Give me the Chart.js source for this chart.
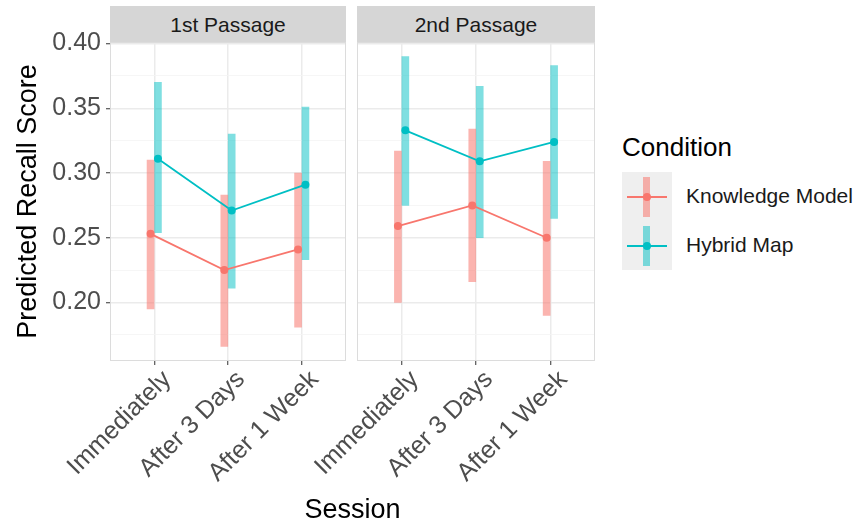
<!DOCTYPE html>
<html>
<head>
<meta charset="utf-8">
<script src="https://cdn.jsdelivr.net/npm/chart.js@4.4.1/dist/chart.umd.min.js"></script>
<style>
  body { margin: 0; width: 864px; height: 524px; background: #fff; position: relative; overflow: hidden;
         font-family: "Liberation Sans", Arial, sans-serif; }
  canvas { position: absolute; }
  .strip { position: absolute; top: 6px; height: 36px; background: #d6d6d6; color: #1a1a1a;
           font-size: 21px; line-height: 37px; text-align: center; z-index: 2; }
  .xtitle { position: absolute; left: 110px; width: 485px; top: 494px; text-align: center; font-size: 27px; color: #000; }
  .legend { position: absolute; left: 622px; top: 132px; }
  .legend .ttl { font-size: 26px; line-height: 30px; color: #000; margin-bottom: 10px; }
  .key { position: relative; width: 50px; height: 49px; background: #efefef; }
  .key .bar { position: absolute; left: 21px; top: 5px; width: 7px; height: 40px; }
  .key .ln { position: absolute; left: 5px; top: 24px; width: 40px; height: 2px; }
  .key .dot { position: absolute; left: 21px; top: 21px; width: 8px; height: 8px; border-radius: 50%; }
  .lab { position: absolute; left: 64px; top: 12px; font-size: 21px; line-height: 24px; color: #1a1a1a; white-space: nowrap; }
</style>
</head>
<body>
<div class="strip" style="left:110px;width:236px">1st Passage</div>
<div class="strip" style="left:357px;width:238px">2nd Passage</div>
<canvas id="c1" width="350" height="496" style="left:0;top:28px"></canvas>
<canvas id="c2" width="340" height="496" style="left:260px;top:28px"></canvas>
<div class="xtitle">Session</div>
<div class="legend" id="legend"></div>

<script>
const sessions = ['Immediately', 'After 3 Days', 'After 1 Week'];
const conditions = ['Knowledge Model', 'Hybrid Map'];
const colors = ['#F8766D', '#00BFC4'];
const barColors = ['rgba(248,118,109,0.55)', 'rgba(0,191,196,0.5)'];

// 1st passage
const km1 = [0.253, 0.225, 0.241];
const km1Lo = [0.195, 0.166, 0.181];
const km1Hi = [0.310, 0.283, 0.300];
const hm1 = [0.311, 0.271, 0.291];
const hm1Lo = [0.254, 0.211, 0.233];
const hm1Hi = [0.370, 0.330, 0.351];

// 2nd passage
const km2 = [0.259, 0.275, 0.250];
const km2Lo = [0.200, 0.216, 0.190];
const km2Hi = [0.317, 0.334, 0.309];
const hm2 = [0.333, 0.309, 0.324];
const hm2Lo = [0.275, 0.250, 0.265];
const hm2Hi = [0.390, 0.367, 0.383];

const yMajor = [0.20, 0.25, 0.30, 0.35, 0.40];
const yMinor = [0.175, 0.225, 0.275, 0.325, 0.375];

const dodge = 0.05;

// shared y range, ggplot style 5% expansion
const allLo = Math.min(...km1Lo, ...hm1Lo, ...km2Lo, ...hm2Lo);
const allHi = Math.max(...km1Hi, ...hm1Hi, ...km2Hi, ...hm2Hi);
const pad = (allHi - allLo) * 0.05;
const yMin = allLo - pad, yMax = allHi + pad;

const isMajor = v => yMajor.some(m => Math.abs(m - v) < 1e-9);

const panelBorder = {
  id: 'panelBorder',
  afterDraw(chart) {
    const a = chart.chartArea, c = chart.ctx;
    c.save();
    c.strokeStyle = '#dcdcdc';
    c.lineWidth = 1;
    c.strokeRect(a.left + 0.5, a.top + 0.5, a.width - 1, a.height - 1);
    c.restore();
  }
};

function makeChart(id, series, showY) {
  const datasets = [];
  series.forEach((s, k) => {
    const off = k === 0 ? -dodge : dodge;
    datasets.push({
      type: 'bar',
      label: conditions[k] + ' CI',
      data: s.lo.map((lo, i) => ({ x: i + 1 + off, y: [lo, s.hi[i]] })),
      backgroundColor: barColors[k],
      borderWidth: 0,
      barThickness: 7,
      grouped: false,
      order: 3
    });
  });
  series.forEach((s, k) => {
    const off = k === 0 ? -dodge : dodge;
    datasets.push({
      type: 'line',
      label: conditions[k],
      data: s.fit.map((v, i) => ({ x: i + 1 + off, y: v })),
      borderColor: colors[k],
      backgroundColor: colors[k],
      borderWidth: 1.8,
      pointRadius: 4,
      pointBorderWidth: 0,
      pointBackgroundColor: colors[k],
      tension: 0,
      order: 1
    });
  });

  return new Chart(document.getElementById(id), {
    data: { datasets },
    plugins: [panelBorder],
    options: {
      responsive: false,
      animation: false,
      events: [],
      layout: { padding: { left: 0, right: showY ? 4 : 5, top: 14, bottom: 0 } },
      plugins: { legend: { display: false }, tooltip: { enabled: false } },
      scales: {
        x: {
          type: 'linear',
          offset: false,
          min: 0.4, max: 3.6,
          afterBuildTicks: s => { s.ticks = sessions.map((_, i) => ({ value: i + 1 })); },
          afterFit: s => { s.height = 163; s.paddingLeft = 0; s.paddingRight = 0; },
          ticks: {
            callback: (v, i) => sessions[i],
            autoSkip: false, minRotation: 45, maxRotation: 45,
            color: '#4d4d4d', font: { size: 25 }, padding: 0, labelOffset: 13
          },
          grid: { offset: false, color: '#ebebeb', lineWidth: 1.5, tickColor: '#333', tickWidth: 1, tickLength: 4 },
          border: { display: false }
        },
        y: {
          type: 'linear',
          min: yMin, max: yMax,
          afterBuildTicks: s => { s.ticks = [...yMinor, ...yMajor].sort((a, b) => a - b).map(v => ({ value: v })); },
          afterFit: s => { s.width = showY ? 110 : 97; s.paddingTop = 0; s.paddingBottom = 0; },
          ticks: {
            display: showY,
            callback: v => isMajor(v) ? v.toFixed(2) : '',
            color: '#4d4d4d', font: { size: 25 }, padding: 5
          },
          grid: {
            color: ctx => isMajor(ctx.tick.value) ? '#ebebeb' : '#f4f4f4',
            lineWidth: ctx => isMajor(ctx.tick.value) ? 1.5 : 0.8,
            drawTicks: showY,
            tickColor: ctx => isMajor(ctx.tick.value) ? '#333' : 'rgba(0,0,0,0)',
            tickWidth: 1, tickLength: 4
          },
          border: { display: false },
          title: {
            display: showY, text: 'Predicted Recall Score', color: '#000',
            font: { size: 27 }, padding: { top: 12, bottom: 0 }
          }
        }
      }
    }
  });
}

Chart.defaults.font.family = '"Liberation Sans", Arial, sans-serif';

makeChart('c1', [
  { fit: km1, lo: km1Lo, hi: km1Hi },
  { fit: hm1, lo: hm1Lo, hi: hm1Hi }
], true);
makeChart('c2', [
  { fit: km2, lo: km2Lo, hi: km2Hi },
  { fit: hm2, lo: hm2Lo, hi: hm2Hi }
], false);

// legend
const legend = document.getElementById('legend');
legend.innerHTML = '<div class="ttl">Condition</div>' + conditions.map((c, k) =>
  '<div class="key"><div class="bar" style="background:' + barColors[k] + '"></div>' +
  '<div class="ln" style="background:' + colors[k] + '"></div>' +
  '<div class="dot" style="background:' + colors[k] + '"></div>' +
  '<div class="lab">' + c + '</div></div>').join('');
</script>
</body>
</html>
